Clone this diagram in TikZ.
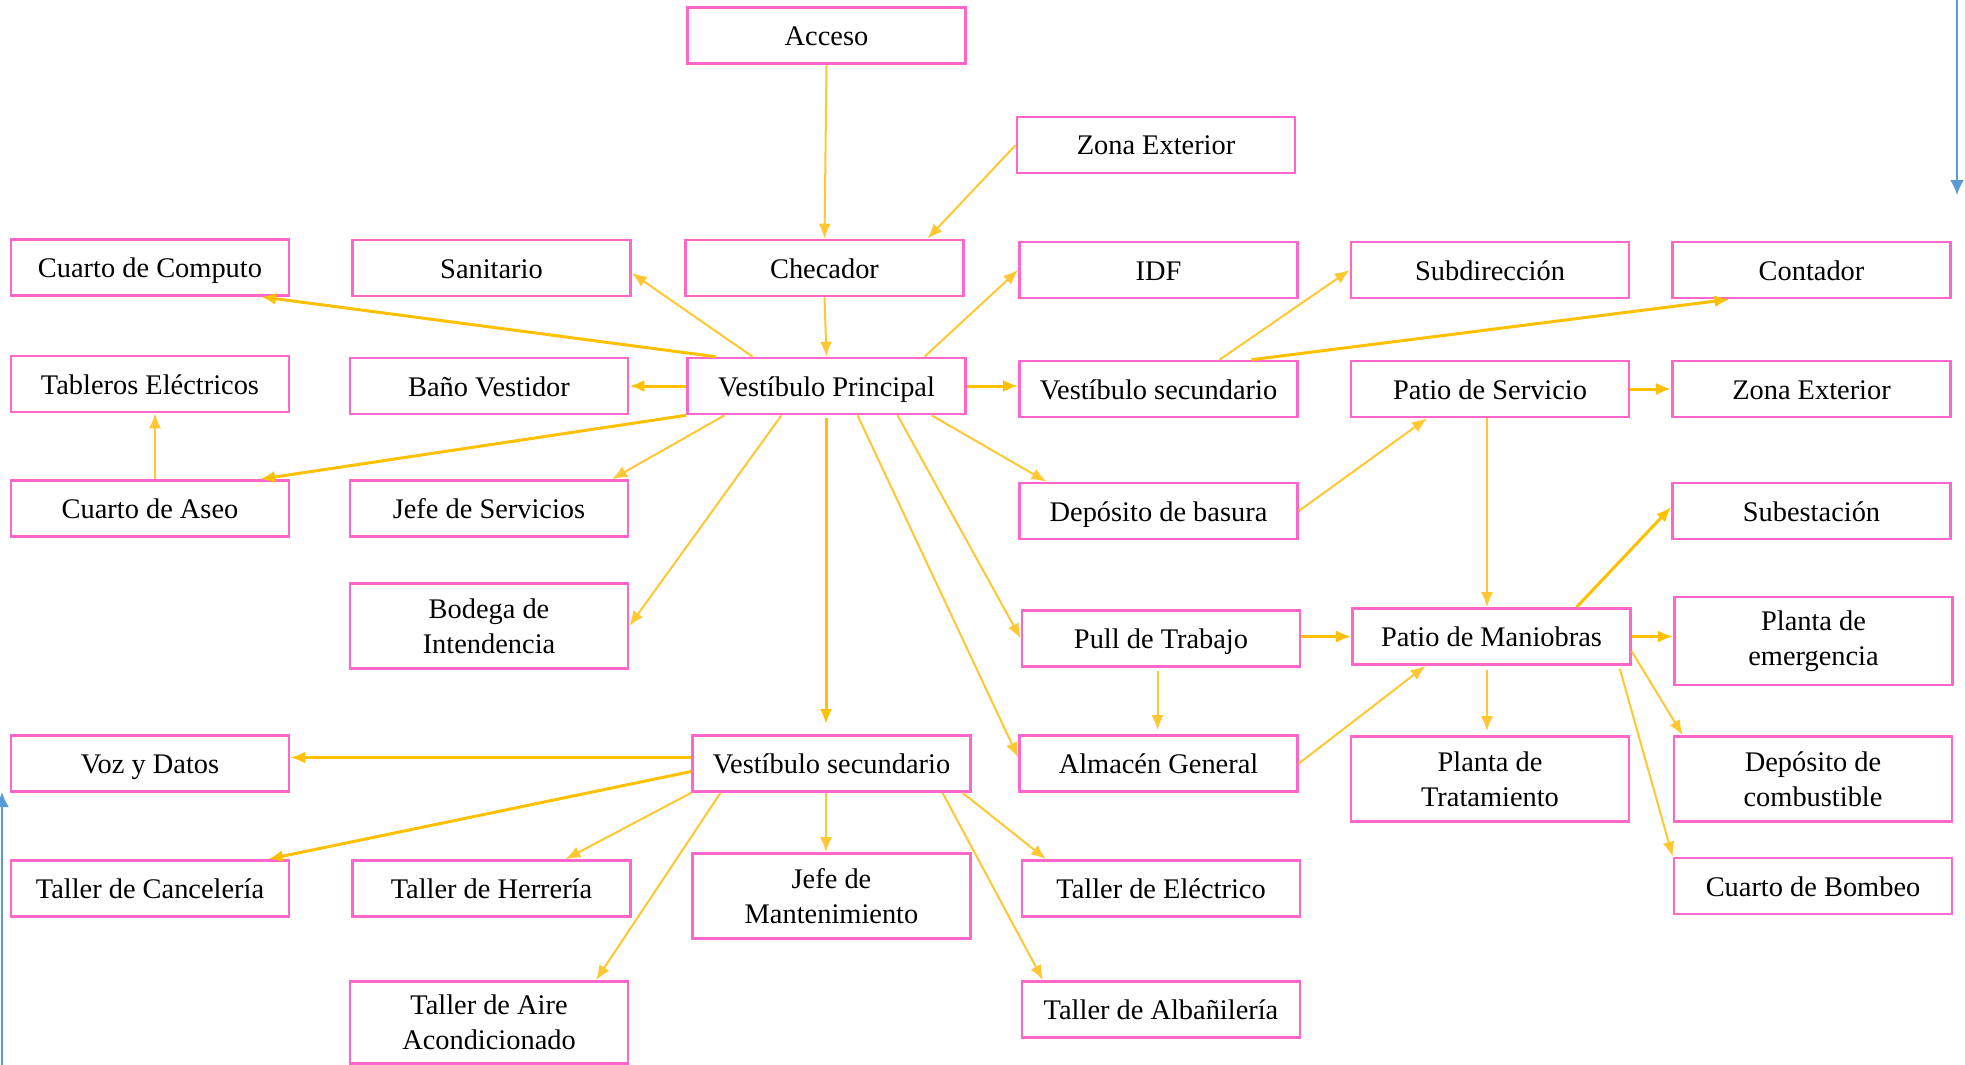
\documentclass[tikz,border=0pt]{standalone}
\usepackage{fontspec}
\setmainfont{Liberation Serif}
\usepackage{tikz}
\usetikzlibrary{arrows}
\usetikzlibrary{arrows.meta}
\usetikzlibrary{calc}
\definecolor{rosa}{HTML}{FF66CC}
\definecolor{ambar}{HTML}{FFC000}
\definecolor{ambarc}{HTML}{FFC832}
\definecolor{azul}{HTML}{5B9BD5}
\tikzset{
  cajabase/.style={draw=rosa, line width=1.3pt, minimum width=139pt,
    inner sep=2pt, align=center, font=\fontsize{14.2}{17.6}\selectfont},
  caja/.style={cajabase, minimum height=28pt, text height=13pt, text depth=3pt},
  caja2/.style={cajabase, minimum height=42.5pt},
  flecha/.style={draw=ambarc, line width=1pt, -{Latex[length=7.5pt,width=6pt]}},
  flechag/.style={flecha, draw=ambar, line width=1.5pt},
  flechaz/.style={draw=azul, line width=1pt, -{Latex[length=7.5pt,width=7pt]}}
}

\begin{document}
\begin{tikzpicture}[x=0.5pt,y=-0.5pt]
\useasboundingbox (0,0) rectangle (1965,1065);
% cajas
\node[caja] (acc) at (826.5,35.5) {Acceso};
\node[caja] (zx1) at (1156,145) {Zona Exterior};
\node[caja] (cc) at (150,267.5) {Cuarto de Computo};
\node[caja] (san) at (491.5,268) {Sanitario};
\node[caja] (chk) at (824.5,268) {Checador};
\node[caja] (idf) at (1158.5,270) {IDF};
\node[caja] (sub) at (1490,270) {Subdirecci\'on};
\node[caja] (cont) at (1811.5,270) {Contador};
\node[caja] (tab) at (150,384) {Tableros El\'ectricos};
\node[caja] (ban) at (489,386) {Ba\~no Vestidor};
\node[caja] (vp) at (826.5,386) {Vest\'ibulo Principal};
\node[caja] (vs1) at (1158.5,389) {Vest\'ibulo secundario};
\node[caja] (ps) at (1490,389) {Patio de Servicio};
\node[caja] (zx2) at (1811.5,389) {Zona Exterior};
\node[caja] (ca) at (150,508.5) {Cuarto de Aseo};
\node[caja] (js) at (489,508.5) {Jefe de Servicios};
\node[caja] (db) at (1158.5,511) {Dep\'osito de basura};
\node[caja] (se) at (1811.5,511) {Subestaci\'on};
\node[caja2] (bi) at (489,626) {Bodega de\\Intendencia};
\node[caja] (pt) at (1161,638.5) {Pull de Trabajo};
\node[caja] (pm) at (1491.5,636.5) {Patio de Maniobras};
\node[caja2, minimum height=44pt] (pe) at (1813.5,641) {Planta de\\emergencia};
\node[caja] (vd) at (150,763.5) {Voz y Datos};
\node[caja] (vs2) at (831.5,763.5) {Vest\'ibulo secundario};
\node[caja] (ag) at (1158.5,763.5) {Almac\'en General};
\node[caja2] (ptr) at (1490,779) {Planta de\\Tratamiento};
\node[caja2] (dc) at (1813,779) {Dep\'osito de\\combustible};
\node[caja] (tc) at (150,888.5) {Taller de Canceler\'ia};
\node[caja] (th) at (491.5,888.5) {Taller de Herrer\'ia};
\node[caja2] (jm) at (831.5,896) {Jefe de\\Mantenimiento};
\node[caja] (te) at (1161,888.5) {Taller de El\'ectrico};
\node[caja] (cb) at (1813,886) {Cuarto de Bombeo};
\node[caja2, minimum height=41pt] (ta) at (489,1022.5) {Taller de Aire\\Acondicionado};
\node[caja] (tal) at (1161,1009.5) {Taller de Alba\~niler\'ia};
% flechas
\draw[flecha] (acc.south) -- (chk.north);
\draw[flecha] (zx1.west) -- ($(chk.north)+(103,0)$);
\draw[flecha] (chk.south) -- (vp.north);
\draw[flechag] ($(vp.north)+(-111,0)$) -- ($(cc.south)+(111,0)$);
\draw[flecha] ($(vp.north)+(-74,0)$) -- ($(san.east)+(0,5)$);
\draw[flechag] (vp.west) -- (ban.east);
\draw[flechag] (vp.south west) -- ($(ca.north)+(110,0)$);
\draw[flecha] ($(vp.south)+(-102,0)$) -- ($(js.north)+(123,0)$);
\draw[flecha] ($(ca.north)+(5,0)$) -- ($(tab.south)+(5,0)$);
\draw[flecha] ($(vp.north)+(98,0)$) -- (idf.west);
\draw[flechag] (vp.east) -- (vp.east -| vs1.west);
\draw[flecha] ($(vp.south)+(105,0)$) -- ($(db.north)+(-112,0)$);
\draw[flecha] ($(vp.south)+(-45,0)$) -- (bi.east);
\draw[flechag] ($(vp.south)+(-0.5,3)$) -- ($(vs2.north)+(-5.5,-10)$);
\draw[flecha] ($(vp.south)+(31,0)$) -- ($(ag.west)+(0,-6)$);
\draw[flecha] ($(vp.south)+(71,0)$) -- (pt.west);
\draw[flecha] ($(vs1.north)+(61,0)$) -- (sub.west);
\draw[flechag] ($(vs1.north)+(93,0)$) -- ($(cont.south)+(-82,0)$);
\draw[flecha] (db.east) -- ($(ps.south)+(-63,0)$);
\draw[flechag] (ps.east) -- (zx2.west);
\draw[flecha] ($(ps.south)+(-3,0)$) -- ($(pm.north)+(-4.5,0)$);
\draw[flechag] ($(pm.north)+(85,0)$) -- ($(se.west)+(0,-4)$);
\draw[flechag] (pm.east) -- (pm.east -| pe.west);
\draw[flecha] ($(pm.south)+(-4.5,4)$) -- ($(ptr.north)+(-3,-4)$);
\draw[flecha] ($(pm.east)+(0,15)$) -- ($(dc.north west)+(10,0)$);
\draw[flecha] ($(pm.south east)+(-12,3)$) -- (cb.north west);
\draw[flechag] ($(pt.east)+(0,-2)$) -- ($(pt.east -| pm.west)+(0,-2)$);
\draw[flecha] ($(pt.south)+(-3.5,3)$) -- ($(ag.north)+(-1,-4)$);
\draw[flecha] (ag.east) -- ($(pm.south)+(-66,0)$);
\draw[flechag] ($(vs2.west)+(0,-6)$) -- ($(vd.east)+(0,-6)$);
\draw[flechag] ($(vs2.west)+(0,8)$) -- ($(tc.north)+(118,0)$);
\draw[flecha] (vs2.south west) -- ($(th.north)+(74,0)$);
\draw[flecha] ($(vs2.south)+(-5.5,0)$) -- ($(jm.north)+(-5.5,0)$);
\draw[flecha] ($(vs2.south)+(-111,0)$) -- ($(ta.north)+(107,0)$);
\draw[flecha] ($(vs2.south)+(131,0)$) -- ($(te.north)+(-115,0)$);
\draw[flecha] ($(vs2.south)+(111,0)$) -- ($(tal.north)+(-118,0)$);
% bordes
\coordinate (ar) at (1957,0);
\coordinate (ab) at (2,1065);
\draw[flechaz] (ar) -- ++(0,195);
\draw[flechaz] (ab) -- ++(0,-273);
\end{tikzpicture}
\end{document}
